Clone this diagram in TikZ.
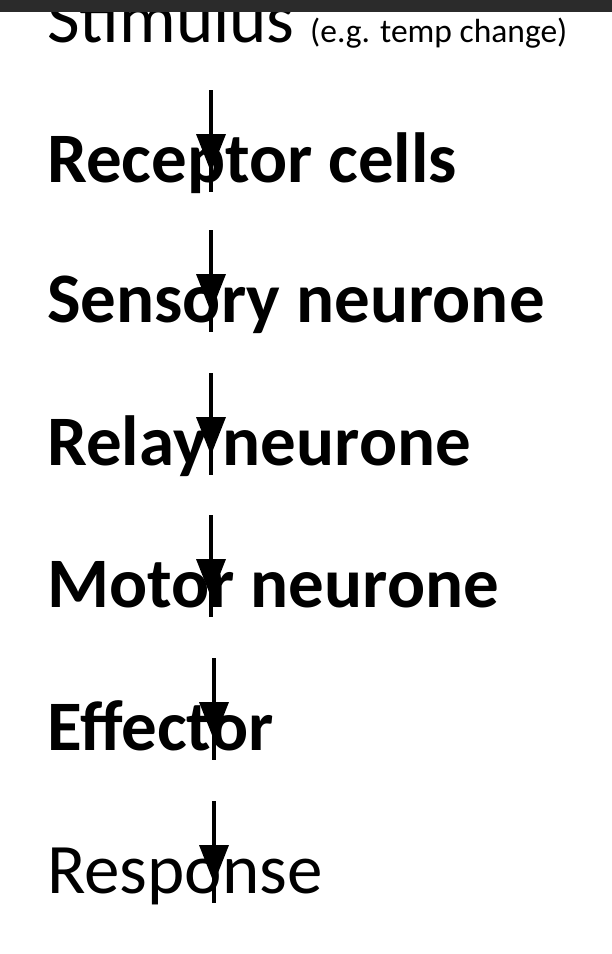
\documentclass[tikz,border=0pt]{standalone}
\usepackage{fontspec}
\setmainfont{Carlito}
\begin{document}
\begin{tikzpicture}[x=1pt,y=-1pt,
  lab/.style={anchor=base west,inner sep=0pt,font=\fontsize{71}{80}\selectfont},
  blab/.style={lab,font=\fontsize{71}{80}\selectfont\bfseries},
  arr/.style={line width=4pt}]
\useasboundingbox (0,0) rectangle (612,954);
\node[lab] (s) at (47,42) {Stimulus};
\node[anchor=base west,inner sep=0pt,font=\fontsize{33.5}{36}\selectfont] (eg) at (310,42) {(e.g. temp change)};
\fill[black!83] (0,0) rectangle (612,12);
\node[blab] (r1) at (47,182) {Receptor cells};
\node[blab] (r2) at (47,322) {Sensory neurone};
\node[blab] (r3) at (47,465) {Relay neurone};
\node[blab] (r4) at (47,607) {Motor neurone};
\node[blab] (r5) at (47,750) {Effector};
\node[lab] (r6) at (47,893) {Response};
\foreach \n/\x in {r1/211,r2/211,r3/211,r4/211,r5/214,r6/214}{
  \coordinate (t) at ([yshift=92pt]\n.base west);
  \draw[arr] (\x,0 |- t) -- ++(0,102);
  \fill (\x-15,0 |- t) ++(0,44) -- ++(30,0) -- ++(-15,38) -- cycle;
}
\end{tikzpicture}
\end{document}
